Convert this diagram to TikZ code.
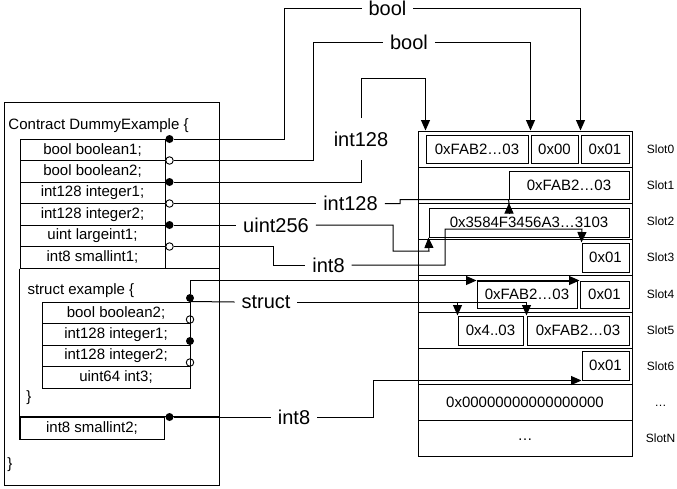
\documentclass[tikz,border=0pt]{standalone}
\usepackage{fontspec}
\setmainfont{Liberation Sans}
\usetikzlibrary{arrows.meta,calc}
\begin{document}
\begin{tikzpicture}[x=1pt,y=-1pt, line width=1pt,
  every node/.style={font=\fontsize{15}{18}\selectfont},
  field/.style={draw, minimum width=145pt, minimum height=21.5pt, inner sep=0pt},
  sfield/.style={draw, minimum width=148pt, minimum height=21.5pt, inner sep=0pt},
  srow/.style={draw, minimum width=214pt, minimum height=36.2pt, inner sep=0pt},
  sbox/.style={draw, inner sep=0pt, minimum height=28pt},
  slbl/.style={font=\fontsize{12}{14}\selectfont, inner sep=0pt},
  lbl/.style={font=\fontsize{20}{24}\selectfont, inner xsep=6.5pt, inner ysep=13pt},
  txt/.style={inner sep=0pt},
  fdot/.style={circle, fill=black, inner sep=0pt, minimum size=8pt},
  hdot/.style={circle, draw, fill=white, inner sep=0pt, minimum size=7.5pt, line width=0.9pt},
  sdot/.style={circle, draw, inner sep=0pt, minimum size=7.5pt, line width=0.9pt},
  arr/.style={-{Triangle[length=10.5pt,width=9pt]}}
]
\useasboundingbox (0,0) rectangle (677,488);

% ---------- contract ----------
\node[draw, minimum width=215pt, minimum height=383pt, inner sep=0pt, anchor=north west] (outer) at (4,102) {};
\node[txt, anchor=west] (title) at (8,126) {Contract DummyExample \{};
\node[field] (f1) at (92.5,149.75) {bool boolean1;};
\node[field] (f2) at (92.5,171.25) {bool boolean2;};
\node[field] (f3) at (92.5,192.75) {int128 integer1;};
\node[field] (f4) at (92.5,214.25) {int128 integer2;};
\node[field] (f5) at (92.5,235.75) {uint largeint1;};
\node[field] (f6) at (92.5,257.25) {int8 smallint1;};
\node[draw, minimum width=144pt, minimum height=22pt, inner sep=0pt] (sm2) at (92,428) {int8 smallint2;};
\draw (f6.south west) -- (f6.south west -| outer.east);
\draw (f6.south west) -- (sm2.south west);
\draw (sm2.north west) -- (sm2.north west -| outer.east);

\node[txt, anchor=west] (stitle) at (27,291) {struct example \{};
\node[sfield] (sr1) at (116,312.75) {bool boolean2;};
\node[sfield] (sr2) at (116,334.25) {int128 integer1;};
\node[sfield] (sr3) at (116,355.75) {int128 integer2;};
\node[sfield] (sr4) at (116,377.25) {uint64 int3;};
\node[txt] (sclose) at (29,398) {\}};
\node[txt] (cclose) at (10,465) {\}};

% ---------- storage ----------
\node[srow] (r0) at (525,149.1) {};
\node[srow] (r1) at (525,185.3) {};
\node[srow] (r2) at (525,221.5) {};
\node[srow] (r3) at (525,257.7) {};
\node[srow] (r4) at (525,293.9) {};
\node[srow] (r5) at (525,330.1) {};
\node[srow] (r6) at (525,366.3) {};
\node[srow] (r7) at (525,402.5) {0x00000000000000000};
\node[srow] (r8) at (525,438.7) {\raisebox{-3pt}{…}};

\node[slbl, xshift=28pt] (l0) at (r0.east) {Slot0};
\node[slbl, xshift=28pt] (l1) at (r1.east) {Slot1};
\node[slbl, xshift=28pt] (l2) at (r2.east) {Slot2};
\node[slbl, xshift=28pt] (l3) at (r3.east) {Slot3};
\node[slbl, xshift=28pt] (l4) at (r4.east) {Slot4};
\node[slbl, xshift=28pt] (l5) at (r5.east) {Slot5};
\node[slbl, xshift=28pt] (l6) at (r6.east) {Slot6};
\node[slbl, xshift=28pt, yshift=-3pt] (l7) at (r7.east) {…};
\node[slbl, xshift=28pt] (l8) at (r8.east) {SlotN};

\node[sbox, minimum width=102pt] (s0a) at (477,149) {0xFAB2…03};
\node[sbox, minimum width=47pt] (s0b) at (554.5,149) {0x00};
\node[sbox, minimum width=48pt] (s0c) at (605,149) {0x01};
\node[sbox, minimum width=120pt] (s1) at (569,185) {0xFAB2…03};
\node[sbox, minimum width=200pt, minimum height=29pt] (s2) at (529,222.5) {0x3584F3456A3…3103};
\node[sbox, minimum width=47pt, minimum height=29pt] (s3) at (605.5,257.5) {0x01};
\node[sbox, minimum width=100pt, minimum height=27pt] (s4a) at (527,294.5) {0xFAB2…03};
\node[sbox, minimum width=49pt, minimum height=27pt] (s4b) at (604.5,294.5) {0x01};
\node[sbox, minimum width=65pt, minimum height=29pt] (s5a) at (490.5,330.5) {0x4..03};
\node[sbox, minimum width=102pt, minimum height=29pt] (s5b) at (578,330.5) {0xFAB2…03};
\node[sbox, minimum width=47pt, minimum height=29pt] (s6) at (605.5,365.5) {0x01};

% ---------- dots ----------
\node[fdot] (d1) at (169.5,139) {};
\node[hdot] (d2) at (169.5,160.5) {};
\node[fdot] (d3) at (169.5,182) {};
\node[hdot] (d4) at (169.5,203.5) {};
\node[fdot] (d5) at (169.5,225) {};
\node[hdot] (d6) at (169.5,246.5) {};
\node[fdot] (d8) at (169.5,417) {};
\node[fdot] (d7) at (190,298) {};
\node[sdot] (e1) at (190,319.5) {};
\node[fdot] (e2) at (190,341) {};
\node[sdot] (e3) at (190,362.5) {};

% ---------- labels ----------
\node[lbl] (lb1) at (387.5,8.5) {bool};
\node[lbl] (lb2) at (409,42) {bool};
\node[lbl] (lb3) at (361,139) {int128};
\node[lbl] (lb4) at (350.5,203.5) {int128};
\node[lbl] (lb5) at (276,225) {uint256};
\node[lbl] (lb6) at (328.5,265) {int8};
\node[lbl] (lb7) at (266,302) {struct};
\node[lbl] (lb8) at (294,417) {int8};

% ---------- bend points ----------
\coordinate (c1) at (284,139);
\coordinate (c2) at (313,160.5);
\coordinate (c3a) at (361,182);
\coordinate (c3b) at (361,78);
\coordinate (c4) at (400,203.5);
\coordinate (c4t) at (509,203);
\coordinate (c4b) at (509,214);
\coordinate (c5) at (393,225);
\coordinate (c5b) at (429,251);
\coordinate (c6a) at (273,246.5);
\coordinate (c6b) at (445,265);
\coordinate (c6c) at (582,229);
\coordinate (c8) at (373,417);

% ---------- connectors ----------
\draw (d1) -- (c1) |- (lb1.west);
\draw[arr] (lb1.east) -| (s0c.north west |- r0.north);
\draw (d2) -- (c2) |- (lb2.west);
\draw[arr] (lb2.east) -| (s0b.north west |- r0.north);
\draw (d3) -- (c3a) -- (lb3.south);
\draw[arr] (lb3.north) -- (c3b) -| (s0a.north west |- r0.north);
\draw (d4) -- (lb4.west);
\draw (lb4.east) -- (c4) |- (s1.south west) -- (c4t);
\draw[arr] (c4b) -- (c4t);
\draw (d5) -- (lb5.west);
\draw[arr] (lb5.east) -- (c5) |- (c5b) -- (s2.south west);
\draw (d6) -- (c6a) |- (lb6.west);
\draw[arr] (lb6.east) -- (c6b) |- (c6c) -- (s3.north west);
\draw[arr] (d7.north) |- (s4a.north west);
\draw[arr] (s4a.north west) -- (s4b.north west);
\draw (sr1.north east) -- (lb7.west);
\draw (lb7.east) -- (s5b.north west |- lb7.east);
\draw[arr] (s5a.north west |- lb7.east) -- (s5a.north west);
\draw[arr] (s5b.north west |- lb7.east) -- (s5b.north west);
\draw (d8) -- (lb8.west);
\draw[arr] (lb8.east) -- (c8) |- (s6.south west);
\end{tikzpicture}
\end{document}
